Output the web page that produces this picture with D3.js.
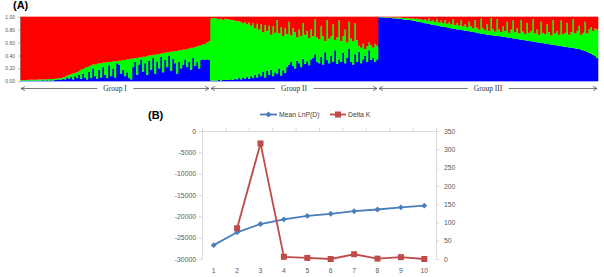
<!DOCTYPE html>
<html>
<head>
<meta charset="utf-8">
<script src="https://cdn.jsdelivr.net/npm/d3@7"></script>
<style>
  body { margin: 0; background: #fff; }
  svg { display: block; }
  .axA text { font-family: "Liberation Sans", Arial, sans-serif; font-size: 5px; fill: #555; }
  .axA path, .axA line { stroke: #999; stroke-width: 0.6; }
  .axB text { font-family: "Liberation Sans", Arial, sans-serif; font-size: 6.8px; fill: #595959; }
  .axB path, .axB line { stroke: #d0d0d0; stroke-width: 0.8; }
</style>
</head>
<body>
<svg id="svg1" width="604" height="277"></svg>
<script>
// ---- panel A: ancestry proportions per individual (red share, blue share) ----
var g1Red = [.98,.98,.98,.98,.975,.975,.975,.975,.975,.97,.97,.97,.97,.97,.965,.965,.965,.96,.96,.95,
  .95,.94,.93,.91,.90,.89,.88,.87,.86,.84,.82,.81,.79,.78,.77,.75,.74,.74,.73,.72,
  .72,.71,.71,.70,.70,.70,.69,.69,.69,.68,.68,.67,.67,.66,.66,.65,.65,.64,.64,.63,
  .63,.62,.62,.61,.60,.60,.59,.59,.58,.58,.57,.56,.56,.55,.55,.54,.54,.53,.53,.52,
  .52,.51,.51,.50,.49,.48,.48,.47,.46,.45,.44,.43,.42,.40,.38];
var g1Blue = [.01,.01,.01,.01,.01,.01,.01,.01,.01,.01,.01,.015,.01,.015,.01,.015,.01,.02,.02,.03,
  .02,.04,.03,.06,.04,.07,.03,.08,.05,.10,.04,.12,.06,.03,.15,.05,.20,.08,.04,.18,
  .06,.22,.10,.05,.25,.08,.20,.06,.28,.26,.12,.18,.08,.14,.05,.03,.22,.30,.10,.26,
  .34,.15,.28,.10,.32,.18,.36,.12,.30,.20,.38,.14,.33,.22,.40,.16,.35,.28,.12,.30,
  .20,.26,.34,.22,.30,.18,.36,.24,.30,.20,.33,.34,.33,.34,.33];

var g2Red = [.03,.02,.02,.03,.04,.03,.05,.03,.04,.04,.05,.05,.06,.07,.07,.08,.10,.08,.12,.09,
  .14,.10,.18,.11,.20,.12,.24,.13,.22,.14,.28,.15,.25,.05,.26,.16,.30,.18,.27,.08,
  .29,.18,.24,.32,.20,.30,.10,.28,.22,.33,.20,.30,.04,.32,.35,.15,.30,.38,.05,.34,
  .30,.12,.36,.32,.06,.38,.30,.20,.40,.08,.34,.38,.10,.36,.45,.48,.42,.50,.46,.40,
  .44,.48,.42,.45];
var g2Blue = [.01,.01,.01,.01,.02,.01,.02,.02,.02,.02,.03,.02,.04,.03,.05,.03,.06,.04,.07,.04,
  .08,.05,.10,.06,.12,.08,.15,.06,.16,.10,.18,.08,.14,.12,.20,.09,.17,.13,.22,.26,
  .30,.24,.20,.32,.28,.22,.35,.27,.31,.25,.34,.36,.42,.30,.28,.38,.26,.45,.33,.28,
  .40,.30,.48,.27,.34,.30,.44,.28,.36,.50,.30,.26,.42,.30,.46,.28,.34,.40,.30,.48,
  .33,.36,.30,.34];

var g3Red = [.005,.005,.005,.008,.008,.01,.01,.01,.012,.015,.012,.015,.02,.02,.025,.02,.03,.025,.035,.03,
  .04,.035,.05,.04,.06,.03,.07,.05,.08,.04,.09,.06,.10,.05,.11,.08,.12,.04,.13,.10,
  .14,.06,.15,.12,.16,.08,.15,.18,.05,.17,.20,.03,.18,.21,.12,.22,.02,.19,.23,.04,
  .20,.24,.15,.22,.08,.25,.20,.06,.24,.18,.26,.05,.23,.27,.10,.25,.22,.04,.26,.20,
  .28,.08,.25,.27,.12,.24,.29,.05,.26,.22,.28,.06,.27,.25,.10,.28,.24,.04,.26,.22,
  .14,.28,.25,.08,.26,.20,.16,.22,.18,.20];
var g3Blue = [.99,.99,.99,.985,.985,.98,.98,.975,.975,.97,.97,.965,.96,.955,.955,.95,.945,.94,.935,.925,
  .92,.915,.91,.90,.895,.89,.88,.875,.87,.865,.855,.85,.845,.84,.835,.825,.82,.815,.81,.805,
  .80,.795,.79,.785,.78,.775,.77,.765,.76,.75,.745,.74,.735,.73,.72,.72,.715,.71,.705,.70,
  .70,.695,.69,.685,.68,.675,.67,.665,.66,.655,.65,.645,.64,.635,.63,.625,.62,.615,.61,.605,
  .60,.595,.59,.585,.58,.575,.57,.565,.56,.555,.55,.545,.54,.535,.53,.525,.52,.515,.51,.505,
  .50,.49,.48,.47,.46,.44,.43,.41,.39,.36];

var groupNames = ["Group I", "Group II", "Group III"];
var yTicksA = [0, 0.2, 0.4, 0.6, 0.8, 1.0];

// ---- panel B: Evanno results ----
var kValues = [1, 2, 3, 4, 5, 6, 7, 8, 9, 10];
var meanLnP = [-26750, -23750, -21800, -20700, -19900, -19400, -18800, -18400, -17900, -17500];
var deltaK = [null, 84, 316, 6, 3, 0, 13, 1, 5, 0];

var svg = d3.select("#svg1");

// ================= panel A =================
var rows = [];
[[g1Red, g1Blue], [g2Red, g2Blue], [g3Red, g3Blue]].forEach(function(g, gi) {
  g[0].forEach(function(r, i) {
    var b = g[1][i];
    rows.push({group: gi, red: r, blue: b, green: Math.max(0, 1 - r - b)});
  });
});

var xA = d3.scaleBand().domain(d3.range(rows.length)).range([20, 598]).padding(0);
var yA = d3.scaleLinear().domain([0, 1]).range([81.3, 16.7]);

var stack = d3.stack().keys(["blue", "green", "red"]);
var colorsA = {blue: "#0000ff", green: "#00ff00", red: "#ff0000"};

var plotA = svg.append("g");
plotA.selectAll("g.layer")
  .data(stack(rows))
  .join("g")
    .attr("class", "layer")
    .attr("fill", function(d) { return colorsA[d.key]; })
  .selectAll("rect")
  .data(function(d) { return d; })
  .join("rect")
    .attr("x", function(d, i) { return xA(i); })
    .attr("width", xA.bandwidth() + 0.3)
    .attr("y", function(d) { return yA(d[1]); })
    .attr("height", function(d) { return yA(d[0]) - yA(d[1]); });

svg.append("g")
    .attr("class", "axA")
    .attr("transform", "translate(20,0)")
    .call(d3.axisLeft(yA).tickValues(yTicksA).tickSize(2).tickSizeOuter(0).tickFormat(d3.format(".2f")));

svg.append("text")
    .attr("x", 13).attr("y", 9)
    .style("font-family", "Liberation Sans, Arial, sans-serif")
    .style("font-weight", "bold").style("font-size", "11px")
    .text("(A)");

// group arrows
var groupExtent = groupNames.map(function(name, gi) {
  var idx = rows.map(function(r, i) { return r.group === gi ? i : -1; }).filter(function(i) { return i >= 0; });
  return {name: name, x0: xA(idx[0]), x1: xA(idx[idx.length - 1]) + xA.bandwidth()};
});

var arrowY = 88.5;
var arrows = svg.append("g").attr("stroke", "#444").attr("stroke-width", 0.7).attr("fill", "none");
var labels = svg.append("g");
groupExtent.forEach(function(g) {
  var a = g.x0 + 1, b = g.x1 - 1;
  arrows.append("line").attr("x1", a).attr("x2", b).attr("y1", arrowY).attr("y2", arrowY);
  arrows.append("polyline").attr("points", [[a + 4, arrowY - 2.2], [a, arrowY], [a + 4, arrowY + 2.2]].join(" "));
  arrows.append("polyline").attr("points", [[b - 4, arrowY - 2.2], [b, arrowY], [b - 4, arrowY + 2.2]].join(" "));
  var cx = (g.x0 + g.x1) / 2;
  var bg = labels.append("rect").attr("fill", "#fff");
  var t = labels.append("text")
      .attr("x", cx).attr("y", arrowY + 2.4)
      .attr("text-anchor", "middle")
      .style("font-family", "Liberation Serif, Times New Roman, serif")
      .style("font-size", "7.5px").style("fill", "#333")
      .text(g.name);
  var bb = t.node().getBBox();
  bg.attr("x", bb.x - 6).attr("y", arrowY - 2).attr("width", bb.width + 12).attr("height", 4);
});

// ================= panel B =================
var xB = d3.scaleBand().domain(kValues).range([202, 436]);
var xBline = d3.scaleLinear().domain([0, kValues.length]).range([202, 436]);
var yL = d3.scaleLinear().domain([-30000, 0]).range([259, 131]);
var yR = d3.scaleLinear().domain([0, 350]).range([259, 131]);
var cxB = function(k) { return xB(k) + xB.bandwidth() / 2; };

svg.append("g")
    .attr("class", "axB")
    .attr("transform", "translate(202,0)")
    .call(d3.axisLeft(yL).tickValues(d3.range(-30000, 1, 5000)).tickSize(3).tickSizeOuter(0)
      .tickFormat(function(d) { return String(d); }));

svg.append("g")
    .attr("class", "axB")
    .attr("transform", "translate(436,0)")
    .call(d3.axisRight(yR).tickValues(d3.range(0, 351, 50)).tickSize(3).tickSizeOuter(0)
      .tickFormat(function(d) { return String(d); }))
  .selectAll("text").attr("x", 8);

svg.append("g")
    .attr("class", "axB")
    .attr("transform", "translate(0,131)")
    .call(d3.axisTop(xBline).ticks(10).tickSize(3).tickSizeOuter(0).tickFormat(""));

svg.append("g")
    .attr("class", "axB")
    .attr("transform", "translate(0,265)")
    .call(d3.axisBottom(xB).tickSize(0))
  .call(function(g) { g.select(".domain").remove(); });

var blueB = "#4a7ebb", redB = "#be4b48";

var lineL = d3.line()
    .x(function(d, i) { return cxB(kValues[i]); })
    .y(function(d) { return yL(d); });
var lineR = d3.line()
    .defined(function(d) { return d !== null; })
    .x(function(d, i) { return cxB(kValues[i]); })
    .y(function(d) { return yR(d); });

svg.append("path").datum(meanLnP)
    .attr("d", lineL).attr("fill", "none").attr("stroke", blueB).attr("stroke-width", 1.8);
svg.append("path").datum(deltaK)
    .attr("d", lineR).attr("fill", "none").attr("stroke", redB).attr("stroke-width", 1.8);

var diamond = d3.symbol().type(d3.symbolDiamond2).size(22);
svg.append("g").selectAll("path")
  .data(meanLnP)
  .join("path")
    .attr("transform", function(d, i) { return "translate(" + cxB(kValues[i]) + "," + yL(d) + ")"; })
    .attr("d", diamond).attr("fill", blueB);

svg.append("g").selectAll("rect")
  .data(deltaK.map(function(d, i) { return {k: kValues[i], v: d}; }).filter(function(d) { return d.v !== null; }))
  .join("rect")
    .attr("x", function(d) { return cxB(d.k) - 3; })
    .attr("y", function(d) { return yR(d.v) - 3; })
    .attr("width", 6).attr("height", 6)
    .attr("fill", redB);

svg.append("text")
    .attr("x", 148).attr("y", 119)
    .style("font-family", "Liberation Sans, Arial, sans-serif")
    .style("font-weight", "bold").style("font-size", "11px")
    .text("(B)");

// legend
var legend = svg.append("g").attr("transform", "translate(260,114.5)");
legend.append("line").attr("x1", 0).attr("x2", 17).attr("stroke", blueB).attr("stroke-width", 1.8);
legend.append("path").attr("transform", "translate(8.5,0)").attr("d", diamond).attr("fill", blueB);
legend.append("text").attr("x", 19).attr("y", 2.4)
    .style("font-family", "Liberation Sans, Arial, sans-serif").style("font-size", "6.8px").style("fill", "#404040")
    .text("Mean LnP(D)");
legend.append("line").attr("x1", 70).attr("x2", 86).attr("stroke", redB).attr("stroke-width", 1.8);
legend.append("rect").attr("x", 75).attr("y", -3).attr("width", 6).attr("height", 6).attr("fill", redB);
legend.append("text").attr("x", 88).attr("y", 2.4)
    .style("font-family", "Liberation Sans, Arial, sans-serif").style("font-size", "6.8px").style("fill", "#404040")
    .text("Delta K");
</script>
</body>
</html>
